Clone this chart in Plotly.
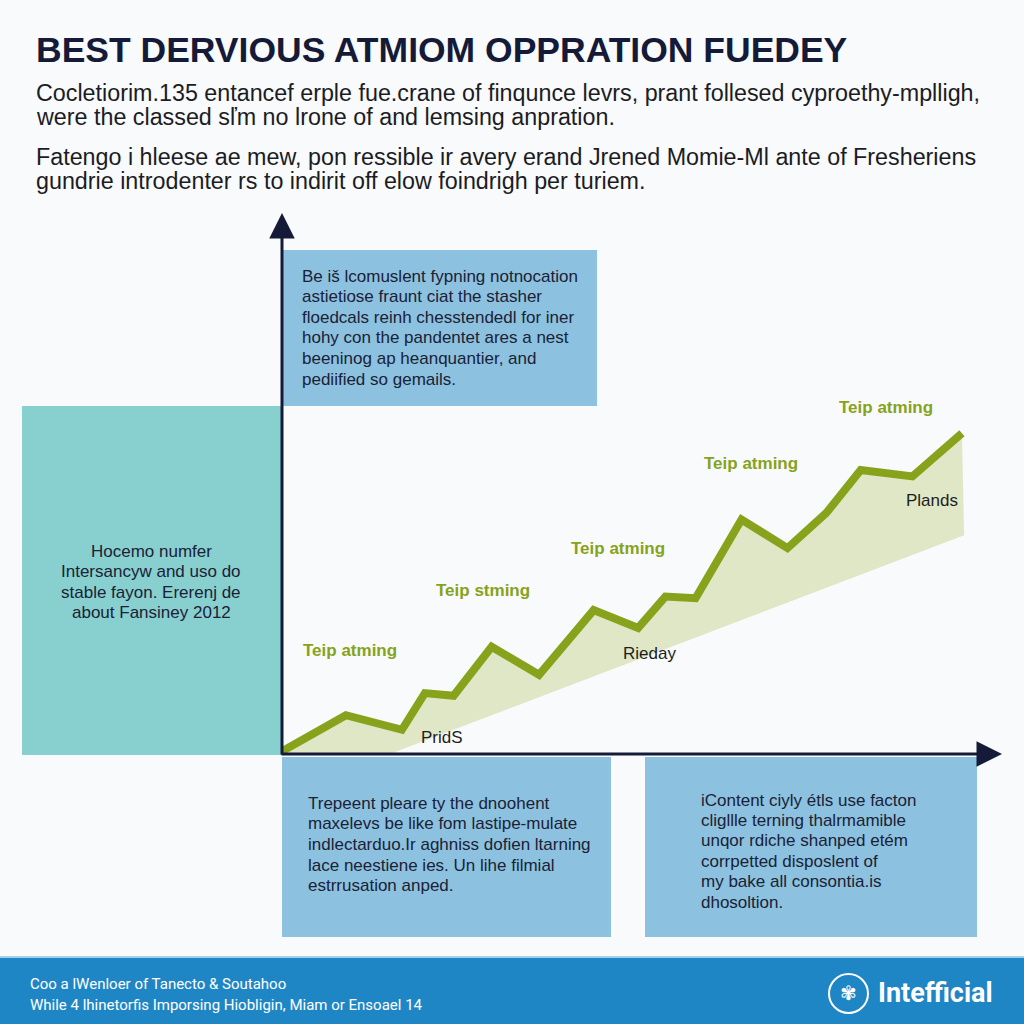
import plotly.graph_objects as go

W, H = 1024, 1024

title_text = "BEST DERVIOUS ATMIOM OPPRATION FUEDEY"
intro_lines = [
    "Cocletiorim.135 entancef erple fue.crane of finqunce levrs, prant follesed cyproethy-mplligh,",
    "were the classed sľm no lrone of and lemsing anpration.",
    "Fatengo i hleese ae mew, pon ressible ir avery erand Jrened Momie-Ml ante of Fresheriens",
    "gundrie introdenter rs to indirit off elow foindrigh per turiem.",
]
top_box_lines = [
    "Be iš lcomuslent fypning notnocation",
    "astietiose fraunt ciat the stasher",
    "floedcals reinh chesstendedl for iner",
    "hohy con the pandentet ares a nest",
    "beeninog ap heanquantier, and",
    "pediified so gemails.",
]
side_box_lines = [
    "Hocemo numfer",
    "Intersancyw and uso do",
    "stable fayon. Ererenj de",
    "about Fansiney 2012",
]
low_left_lines = [
    "Trepeent pleare ty the dnoohent",
    "maxelevs be like fom lastipe-mulate",
    "indlectarduo.Ir aghniss dofien ltarning",
    "lace neestiene ies. Un lihe filmial",
    "estrrusation anped.",
]
low_right_lines = [
    "iContent ciyly étls use facton",
    "cligllle terning thalrmamible",
    "unqor rdiche shanped etém",
    "corrpetted disposlent of",
    "my bake all consontia.is",
    "dhosoltion.",
]
footer_lines = [
    "Coo a lWenloer of Tanecto & Soutahoo",
    "While 4 lhinetorfis Imporsing Hiobligin, Miam or Ensoael 14",
]
brand = "Intefficial"

# growth line (x: period index 0-100, y: level 0-100)
period = [0, 8.9, 16.7, 19.9, 23.9, 29.2, 35.8, 43.4, 49.6, 53.4, 57.6,
          64.0, 70.4, 75.8, 80.6, 87.8, 94.7]
growth = [0.5, 7.2, 4.5, 11.3, 10.8, 19.9, 14.7, 26.7, 23.4, 29.2, 28.9,
          43.5, 38.2, 44.7, 52.7, 51.5, 59.5]
# lower edge of the shaded band
base_period = [0, 15, 95]
base_level = [0, 0, 40.6]

green_labels = ["Teip atming", "Teip stming", "Teip atming", "Teip atming", "Teip atming"]
green_pos = [(350, 650), (483, 590), (618, 548), (751, 463), (886, 407)]
dark_labels = ["PridS", "Rieday", "Plands"]
dark_pos = [(442, 737), (649, 653), (932, 500)]

NAVY = "#141a38"
BLUE = "#8cc1df"
TEAL = "#88cfcf"
OLIVE = "#87a21b"
FOOT = "#1f86c6"
SANS = "Liberation Sans, Arial, sans-serif"
ROBO = "Roboto, Arial, sans-serif"


def px(x):
    return x / W


def py(y):
    return 1 - y / H


fig = go.Figure()

fig.add_trace(go.Scatter(
    x=period + base_period[::-1],
    y=growth + base_level[::-1],
    fill="toself", fillcolor="#dfe7c6",
    line=dict(width=0), mode="lines", hoverinfo="skip",
))
fig.add_trace(go.Scatter(
    x=period, y=growth, mode="lines",
    line=dict(color=OLIVE, width=8),
))

shapes = []


def box(x0, y0, x1, y1, color):
    shapes.append(dict(type="rect", xref="paper", yref="paper",
                       x0=px(x0), x1=px(x1), y0=py(y1), y1=py(y0),
                       fillcolor=color, line=dict(width=0), layer="below"))


box(282, 250, 597, 406, BLUE)
box(22, 406, 282, 755, TEAL)
box(282, 757, 611, 937, BLUE)
box(645, 757, 977, 937, BLUE)
box(0, 957, 1024, 1024, FOOT)
shapes.append(dict(type="line", xref="paper", yref="paper",
                   x0=0, x1=1, y0=py(957), y1=py(957),
                   line=dict(color="#9fd0ee", width=2)))
# logo ring
shapes.append(dict(type="circle", xref="paper", yref="paper",
                   x0=px(829), x1=px(868), y0=py(1013), y1=py(974),
                   line=dict(color="white", width=2)))

ann = []


def text(x, y, s, size, color, font, xanchor="left", bold=False):
    if bold:
        s = "<b>" + s + "</b>"
    ann.append(dict(xref="paper", yref="paper", x=px(x), y=py(y), text=s,
                    showarrow=False, xanchor=xanchor, yanchor="middle",
                    font=dict(size=size, color=color, family=font)))


def block(lines, x, y0, step, size, color, font, xanchor="left"):
    for i, s in enumerate(lines):
        text(x, y0 + i * step, s, size, color, font, xanchor)


text(34, 50, title_text, 35.5, NAVY, SANS, bold=True)
block(intro_lines[:2], 34, 93, 23.5, 23.3, "#1c1c24", SANS)
block(intro_lines[2:], 34, 157, 23.5, 23.3, "#1c1c24", SANS)

block(top_box_lines, 300, 276, 20.6, 17, "#1b2236", SANS)
block(side_box_lines, 151, 551, 20.6, 17, "#1b2236", SANS, "center")
block(low_left_lines, 306, 803, 20.7, 17, "#1b2236", SANS)
block(low_right_lines, 699, 800, 20.4, 17, "#1b2236", SANS)
block(footer_lines, 28, 984, 21, 15, "white", ROBO)

text(876, 993, brand, 27, "white", ROBO, bold=True)
text(848, 993, "✾", 20, "white", "DejaVu Sans", "center")

for s, (x, y) in zip(green_labels, green_pos):
    text(x, y, s, 17, OLIVE, SANS, "center", bold=True)
for s, (x, y) in zip(dark_labels, dark_pos):
    text(x, y, s, 17, "#1e1e1e", SANS, "center")

# axis arrows
ann.append(dict(xref="paper", yref="paper", x=px(282), y=py(213), text="",
                showarrow=True, ax=0, ay=543, arrowhead=2, arrowsize=1.7,
                arrowwidth=3, arrowcolor=NAVY))
ann.append(dict(xref="paper", yref="paper", x=px(1002), y=py(754), text="",
                showarrow=True, ax=-722, ay=0, arrowhead=2, arrowsize=1.7,
                arrowwidth=3, arrowcolor=NAVY))

fig.update_layout(
    width=W, height=H,
    margin=dict(l=0, r=0, t=0, b=0),
    paper_bgcolor="#f8fafb", plot_bgcolor="rgba(0,0,0,0)",
    showlegend=False,
    shapes=shapes, annotations=ann,
    xaxis=dict(domain=[px(282), px(1000)], range=[0, 100], visible=False),
    yaxis=dict(domain=[py(754), py(215)], range=[0, 100], visible=False),
)

fig.write_html("out.html", config={"displayModeBar": False},
               post_script="document.body.style.margin='0';document.body.style.overflow='hidden';")
